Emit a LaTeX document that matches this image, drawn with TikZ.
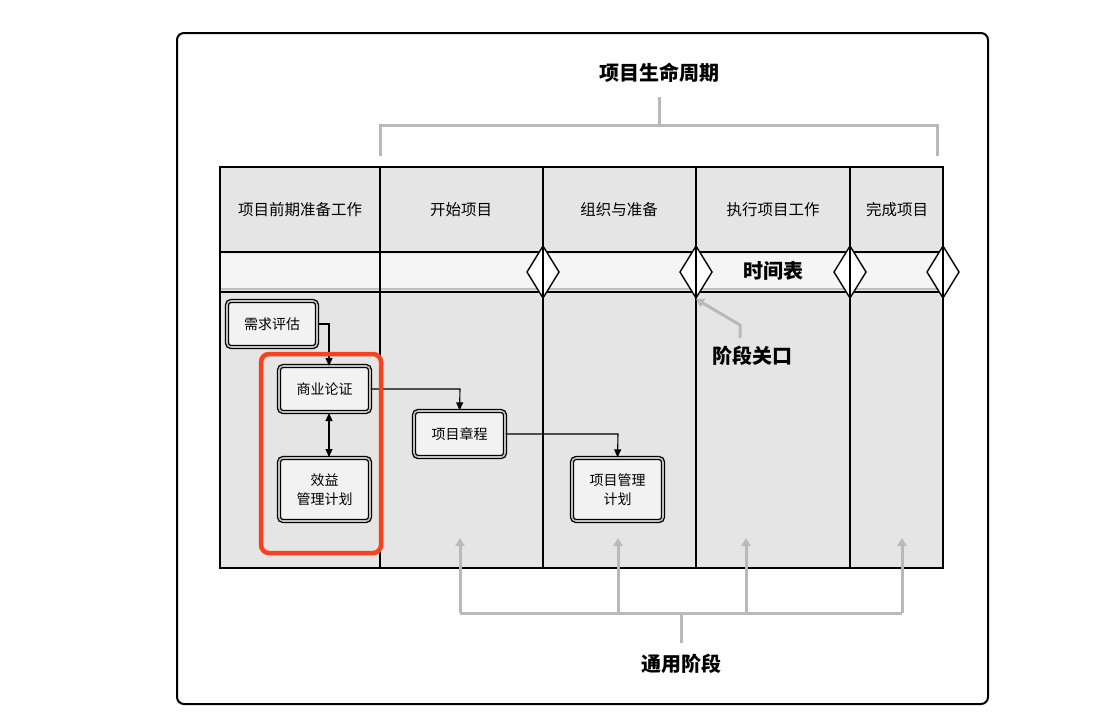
\documentclass[tikz,border=0pt]{standalone}
\usepackage{fontspec}
\setmainfont{Noto Sans CJK SC}
\usetikzlibrary{arrows.meta}
\begin{document}
\begin{tikzpicture}[x=1pt,y=-1pt,
 box/.style={draw,line width=1.3pt,rounded corners=4pt,fill=gray!10,double=gray!50,double distance=1.6pt,align=center,font=\fontsize{14}{19}\selectfont},
 gbr/.style={draw=gray!55,line width=3pt},
 garr/.style={gbr,-{Triangle[length=8pt,width=9pt]}},
 arr/.style={draw,line width=1.1pt,-{Triangle[length=8pt,width=7pt]}},
 hd/.style={font=\fontsize{15.5}{18}\selectfont},
 bold/.style={font=\fontsize{20}{24}\selectfont\bfseries},
 dia/.style={draw,line width=1.4pt,fill=white}]
\useasboundingbox (0,0) rectangle (1118,724);
\draw[line width=2pt,rounded corners=7pt] (177,33) rectangle (988,704);
% table
\fill[gray!20] (220,167) rectangle (943,568);
\fill[gray!8] (220,254) rectangle (943,289);
\draw[gray!50,line width=2.5pt] (220,289) -- (943,289);
\draw[line width=1.4pt] (220,167) rectangle (943,568);
\draw[line width=1.4pt] (220,252) -- (943,252) (220,292) -- (943,292);
\foreach \x in {380,543,696,850} \draw[line width=1.4pt] (\x,167) -- (\x,568);
\node[hd] (h1) at (300,210) {项目前期准备工作};
\node[hd] (h2) at (461,210) {开始项目};
\node[hd] (h3) at (619,210) {组织与准备};
\node[hd] (h4) at (773,210) {执行项目工作};
\node[hd] (h5) at (897,210) {完成项目};
\foreach \x/\n in {543/d1,696/d2,850/d3,943/d4}{
 \draw[dia] (\x-16,272) -- (\x,246) -- (\x+16,272) -- (\x,298) -- cycle;
 \draw[line width=1.4pt] (\x,246) -- (\x,298);
 \coordinate (\n) at (\x,299);}
\node[bold] (tl) at (773,271) {时间表};
% top bracket
\node[bold] (life) at (659,73) {项目生命周期};
\draw[gbr] (380,156) -- (380,125) -- (937,125) -- (937,156);
\draw[gbr] (659,125) -- (659,97);
% gate label
\node[bold] (gate) at (752,356) {阶段关口};
\draw[garr] (740,338) -- (740,325) -- (d2);
% bottom
\node[bold] (gen) at (681,664) {通用阶段};
\draw[gbr] (460,613) -- (902,613) (681,613) -- (681,643);
\foreach \x in {460,618,746,902} \draw[garr] (\x,613) -- (\x,538);
% boxes
\node[box,minimum width=90pt,minimum height=46pt] (b1) at (272,324) {需求评估};
\node[box,minimum width=91pt,minimum height=46pt] (b2) at (324.5,389) {商业论证};
\node[box,minimum width=91pt,minimum height=63pt] (b3) at (324.5,489.5) {效益\\管理计划};
\node[box,minimum width=91pt,minimum height=46pt] (b4) at (459.5,434) {项目章程};
\node[box,minimum width=91pt,minimum height=63pt] (b5) at (617.5,489.5) {项目管理\\计划};
\draw[arr] (b1.east) -- (329,324) -- (329,366);
\draw[arr] (b2.east) -- (460,389) -- (b4.north);
\draw[arr] (b4.east) -- (618,434) -- (b5.north);
\draw[line width=1.1pt,{Triangle[length=8pt,width=7pt]}-{Triangle[length=8pt,width=7pt]}] (329,413) -- (329,457);
\draw[draw={rgb,255:red,250;green,65;blue,30},line width=4.5pt,rounded corners=8pt] (261,354) rectangle (381,553);
\end{tikzpicture}
\end{document}
